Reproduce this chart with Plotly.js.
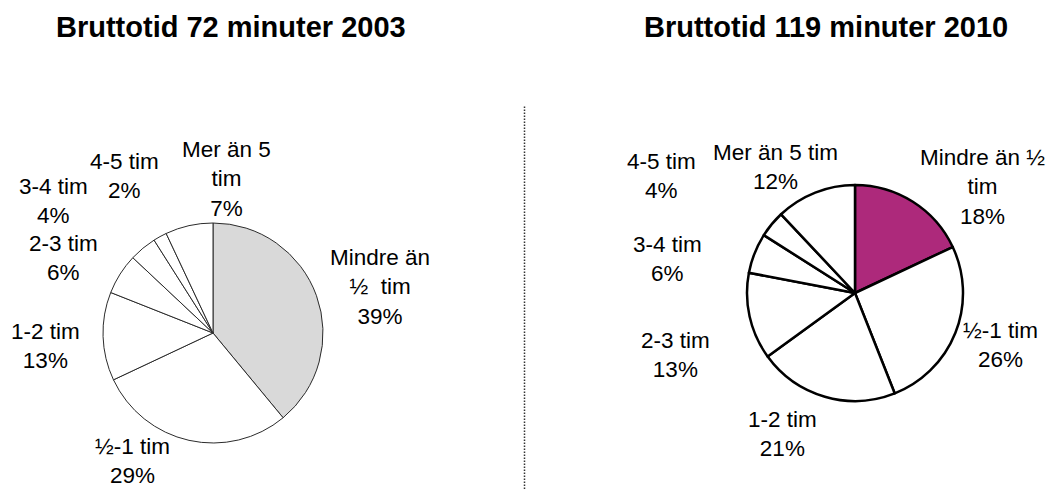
<!DOCTYPE html>
<html>
<head>
<meta charset="utf-8">
<script src="https://cdn.plot.ly/plotly-3.0.1.min.js"></script>
<style>html,body{margin:0;padding:0;background:#fff;}#chart{width:1051px;height:489px;}</style>
</head>
<body>
<div id="chart"></div>
<script>
// ---- data ----
var categories = ["Mindre än ½ tim", "½-1 tim", "1-2 tim", "2-3 tim", "3-4 tim", "4-5 tim", "Mer än 5 tim"];
var values2003 = [39, 29, 13, 6, 4, 2, 7];
var values2010 = [18, 26, 21, 13, 6, 4, 12];
// label wording as wrapped in each chart
var labelText2003 = ["Mindre än<br>½\u00a0\u00a0tim", "½-1 tim", "1-2 tim", "2-3 tim", "3-4 tim", "4-5 tim", "Mer än 5<br>tim"];
var labelText2010 = ["Mindre än ½<br>tim", "½-1 tim", "1-2 tim", "2-3 tim", "3-4 tim", "4-5 tim", "Mer än 5 tim"];
var title2003 = "Bruttotid 72 minuter 2003";
var title2010 = "Bruttotid 119 minuter 2010";

// ---- layout helpers (pixel positions of label centres) ----
var W = 1051, H = 489;
var labelPos2003 = [[380, 287], [132, 461], [45, 346], [63, 258], [53, 201], [124, 176], [226, 179]];
var labelPos2010 = [[982, 187], [1000, 345], [782, 434], [675, 355], [667, 259], [661, 176], [775, 167]];

function px2paperX(x) { return x / W; }
function px2paperY(y) { return 1 - y / H; }

var font = "Liberation Sans, Arial, sans-serif";

var traces = [
  {
    type: "pie",
    labels: categories,
    values: values2003,
    sort: false,
    direction: "clockwise",
    rotation: 0,
    textinfo: "none",
    hoverinfo: "label+percent",
    showlegend: false,
    domain: { x: [px2paperX(103), px2paperX(323)], y: [px2paperY(443), px2paperY(223)] },
    marker: {
      colors: ["#d9d9d9", "#ffffff", "#ffffff", "#ffffff", "#ffffff", "#ffffff", "#ffffff"],
      line: { color: "#2b2b2b", width: 1 }
    }
  },
  {
    type: "pie",
    labels: categories,
    values: values2010,
    sort: false,
    direction: "clockwise",
    rotation: 0,
    textinfo: "none",
    hoverinfo: "label+percent",
    showlegend: false,
    domain: { x: [px2paperX(747), px2paperX(963)], y: [px2paperY(401), px2paperY(185)] },
    marker: {
      colors: ["#ad297b", "#ffffff", "#ffffff", "#ffffff", "#ffffff", "#ffffff", "#ffffff"],
      line: { color: "#000000", width: 2.5 }
    }
  }
];

var annotations = [];
function addLabels(texts, vals, pos) {
  for (var i = 0; i < texts.length; i++) {
    annotations.push({
      xref: "paper", yref: "paper",
      x: px2paperX(pos[i][0]), y: px2paperY(pos[i][1]),
      xanchor: "center", yanchor: "middle",
      text: texts[i] + "<br>" + vals[i] + "%",
      showarrow: false,
      align: "center",
      borderpad: 0,
      font: { family: font, size: 22.5, color: "#000" }
    });
  }
}
addLabels(labelText2003, values2003, labelPos2003);
addLabels(labelText2010, values2010, labelPos2010);

annotations.push({
  xref: "paper", yref: "paper", x: px2paperX(231), y: px2paperY(27),
  xanchor: "center", yanchor: "middle", showarrow: false,
  text: "<b>" + title2003 + "</b>",
  font: { family: font, size: 29, color: "#000" }
});
annotations.push({
  xref: "paper", yref: "paper", x: px2paperX(825.5), y: px2paperY(27),
  xanchor: "center", yanchor: "middle", showarrow: false,
  text: "<b>" + title2010 + "</b>",
  font: { family: font, size: 29, color: "#000" }
});

var layout = {
  width: W, height: H,
  margin: { l: 0, r: 0, t: 0, b: 0, pad: 0 },
  paper_bgcolor: "#ffffff",
  plot_bgcolor: "#ffffff",
  annotations: annotations,
  shapes: [{
    type: "line", xref: "paper", yref: "paper",
    x0: px2paperX(524.5), x1: px2paperX(524.5),
    y0: px2paperY(489), y1: px2paperY(106),
    line: { color: "#333333", width: 1.5, dash: "1.5px,1.5px" }
  }]
};

Plotly.newPlot("chart", traces, layout, { displayModeBar: false, staticPlot: true });
</script>
</body>
</html>
